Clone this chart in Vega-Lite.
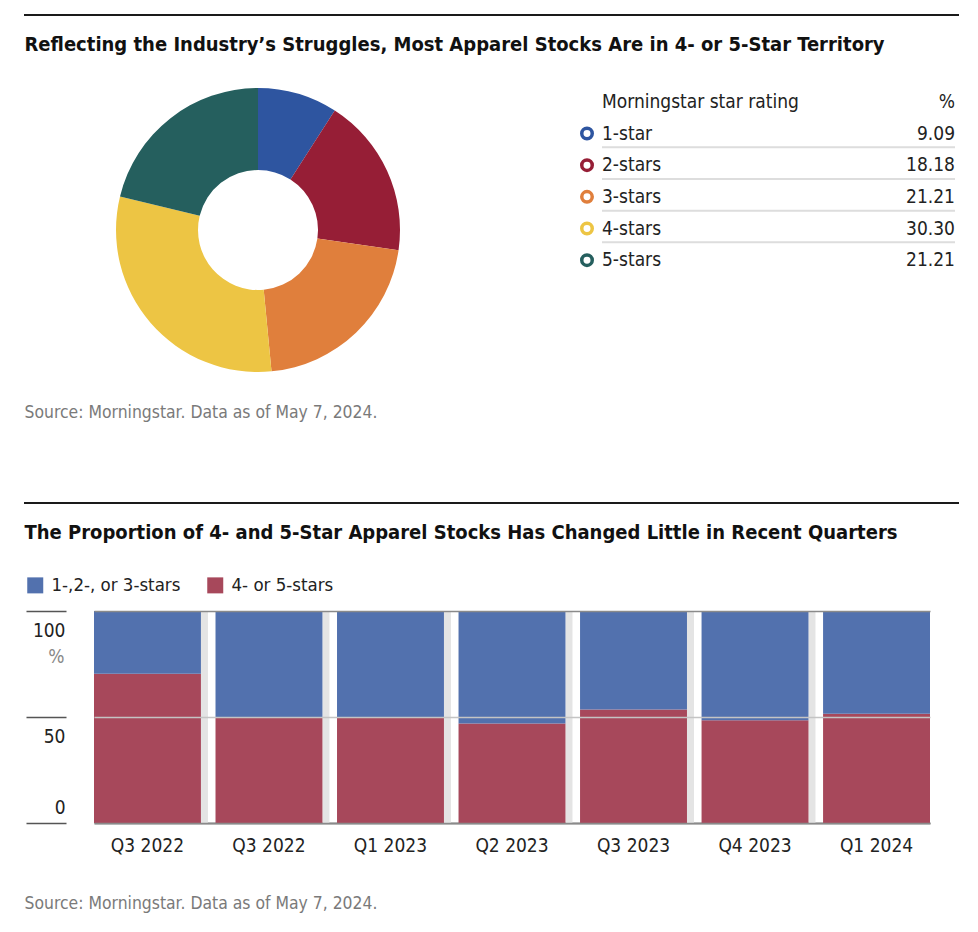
{
  "$schema": "https://vega.github.io/schema/vega-lite/v6.json",
  "padding": {"left": 23, "top": 14, "right": 0, "bottom": 0},
  "background": "white",
  "columns": 1,
  "align": "none",
  "spacing": 0,
  "config": {
    "font": "'Liberation Sans Narrow', 'DejaVu Sans Condensed', 'Roboto Condensed', Roboto, sans-serif",
    "view": {"stroke": null}
  },
  "resolve": {"scale": {"color": "independent", "stroke": "independent"}},
  "datasets": {
    "ratings": [
      {"rating": "1-star", "pct": 9.09},
      {"rating": "2-stars", "pct": 18.18},
      {"rating": "3-stars", "pct": 21.21},
      {"rating": "4-stars", "pct": 30.30},
      {"rating": "5-stars", "pct": 21.21}
    ],
    "quarters": [
      {"quarter": "Q3 2022", "group": "4- or 5-stars", "pct": 70.4},
      {"quarter": "Q3 2022", "group": "1-,2-, or 3-stars", "pct": 29.6},
      {"quarter": "Q3 2022 ", "group": "4- or 5-stars", "pct": 50.0},
      {"quarter": "Q3 2022 ", "group": "1-,2-, or 3-stars", "pct": 50.0},
      {"quarter": "Q1 2023", "group": "4- or 5-stars", "pct": 50.0},
      {"quarter": "Q1 2023", "group": "1-,2-, or 3-stars", "pct": 50.0},
      {"quarter": "Q2 2023", "group": "4- or 5-stars", "pct": 46.9},
      {"quarter": "Q2 2023", "group": "1-,2-, or 3-stars", "pct": 53.1},
      {"quarter": "Q3 2023", "group": "4- or 5-stars", "pct": 53.5},
      {"quarter": "Q3 2023", "group": "1-,2-, or 3-stars", "pct": 46.5},
      {"quarter": "Q4 2023", "group": "4- or 5-stars", "pct": 48.5},
      {"quarter": "Q4 2023", "group": "1-,2-, or 3-stars", "pct": 51.5},
      {"quarter": "Q1 2024", "group": "4- or 5-stars", "pct": 51.5},
      {"quarter": "Q1 2024", "group": "1-,2-, or 3-stars", "pct": 48.5}
    ]
  },
  "concat": [
    {
      "width": 865, "height": 2,
      "data": {"values": [{"from": 0, "to": 1}]},
      "mark": {"type": "rule", "color": "#1a1a1a", "strokeWidth": 2, "xOffset": -70},
      "encoding": {
        "x": {"field": "from", "type": "quantitative", "scale": {"domain": [0, 1], "nice": false}, "axis": null},
        "x2": {"field": "to"}
      }
    },
    {
      "width": 1, "height": 58,
      "data": {"values": [{"t": "Reflecting the Industry’s Struggles, Most Apparel Stocks Are in 4- or 5-Star Territory"}]},
      "mark": {"type": "text", "align": "left", "baseline": "middle", "fontSize": 20, "fontWeight": "bold", "color": "#111", "dx": -70},
      "encoding": {"text": {"field": "t"}}
    },
    {
      "spacing": 152,
      "hconcat": [
        {
          "width": 328, "height": 312,
          "data": {"name": "ratings"},
          "mark": {"type": "arc", "outerRadius": 142, "innerRadius": 60},
          "encoding": {
            "theta": {"field": "pct", "type": "quantitative", "stack": true},
            "color": {
              "field": "rating", "type": "nominal",
              "scale": {"domain": ["1-star", "2-stars", "3-stars", "4-stars", "5-stars"], "range": ["#2e55a0", "#961e36", "#e07f3c", "#edc544", "#255f5e"]},
              "legend": null
            },
            "order": {"field": "rating", "sort": "ascending"}
          }
        },
        {
          "width": 353, "height": 312,
          "layer": [
            {
              "data": {"name": "ratings"},
              "transform": [{"filter": "datum.rating != '5-stars'"}],
              "mark": {"type": "rule", "color": "#dddddd", "strokeWidth": 2, "yOffset": -2},
              "encoding": {
                "x": {"datum": 0, "type": "quantitative", "scale": {"domain": [0, 1], "nice": false, "zero": false}, "axis": null},
                "x2": {"datum": 1},
                "y": {"field": "rating", "type": "nominal", "bandPosition": 1,
                  "scale": {"type": "band", "domain": ["Morningstar star rating", "1-star", "2-stars", "3-stars", "4-stars", "5-stars"], "paddingInner": 0, "paddingOuter": 0, "range": [12, 202]},
                  "axis": null}
              }
            },
            {
              "data": {"values": [{"rating": "Morningstar star rating", "head": "%"}]},
              "mark": {"type": "text", "align": "left", "baseline": "middle", "fontSize": 19, "color": "#222"},
              "encoding": {
                "x": {"datum": 0, "type": "quantitative"},
                "y": {"field": "rating", "type": "nominal", "bandPosition": 0.5},
                "text": {"field": "rating"}
              }
            },
            {
              "data": {"values": [{"rating": "Morningstar star rating", "head": "%"}]},
              "mark": {"type": "text", "align": "right", "baseline": "middle", "fontSize": 19, "color": "#222"},
              "encoding": {
                "x": {"datum": 1, "type": "quantitative"},
                "y": {"field": "rating", "type": "nominal", "bandPosition": 0.5},
                "text": {"field": "head"}
              }
            },
            {
              "data": {"name": "ratings"},
              "mark": {"type": "point", "shape": "circle", "filled": false, "fill": "white", "fillOpacity": 1, "strokeWidth": 3.5, "size": 110, "xOffset": -15, "opacity": 1},
              "encoding": {
                "x": {"datum": 0, "type": "quantitative"},
                "y": {"field": "rating", "type": "nominal", "bandPosition": 0.5},
                "stroke": {
                  "field": "rating", "type": "nominal",
                  "scale": {"domain": ["1-star", "2-stars", "3-stars", "4-stars", "5-stars"], "range": ["#2e55a0", "#961e36", "#e07f3c", "#edc544", "#255f5e"]},
                  "legend": null
                }
              }
            },
            {
              "data": {"name": "ratings"},
              "mark": {"type": "text", "align": "left", "baseline": "middle", "fontSize": 19, "color": "#222"},
              "encoding": {
                "x": {"datum": 0, "type": "quantitative"},
                "y": {"field": "rating", "type": "nominal", "bandPosition": 0.5},
                "text": {"field": "rating"}
              }
            },
            {
              "data": {"name": "ratings"},
              "mark": {"type": "text", "align": "right", "baseline": "middle", "fontSize": 19, "color": "#222"},
              "encoding": {
                "x": {"datum": 1, "type": "quantitative"},
                "y": {"field": "rating", "type": "nominal", "bandPosition": 0.5},
                "text": {"field": "pct", "type": "quantitative", "format": ".2f"}
              }
            }
          ]
        }
      ]
    },
    {
      "width": 1, "height": 116,
      "data": {"values": [{"t": "Source: Morningstar. Data as of May 7, 2024."}]},
      "mark": {"type": "text", "align": "left", "baseline": "middle", "fontSize": 17.4, "color": "#7a7a7a", "dy": -31, "dx": -70},
      "encoding": {"text": {"field": "t"}}
    },
    {
      "width": 865, "height": 2,
      "data": {"values": [{"from": 0, "to": 1}]},
      "mark": {"type": "rule", "color": "#1a1a1a", "strokeWidth": 2, "xOffset": -70},
      "encoding": {
        "x": {"field": "from", "type": "quantitative", "scale": {"domain": [0, 1], "nice": false}, "axis": null},
        "x2": {"field": "to"}
      }
    },
    {
      "width": 1, "height": 72,
      "data": {"values": [{"t": "The Proportion of 4- and 5-Star Apparel Stocks Has Changed Little in Recent Quarters"}]},
      "mark": {"type": "text", "align": "left", "baseline": "middle", "fontSize": 20, "fontWeight": "bold", "color": "#111", "dy": -7, "dx": -70},
      "encoding": {"text": {"field": "t"}}
    },
    {
      "width": 836, "height": 212,
      "data": {"name": "quarters"},
      "layer": [
        {
          "transform": [{"filter": "datum.group == '4- or 5-stars' && datum.quarter != 'Q1 2024'"}],
          "mark": {"type": "rule", "color": "#e4e4e4", "strokeWidth": 7, "xOffset": 3.5},
          "encoding": {
            "x": {"field": "quarter", "type": "nominal", "bandPosition": 1, "sort": null}
          }
        },
        {
          "mark": {"type": "bar"},
          "encoding": {
            "x": {
              "field": "quarter", "type": "nominal", "sort": null,
              "scale": {"paddingInner": 0.12, "paddingOuter": 0},
              "axis": {"title": null, "labelAngle": 0, "labelAlign": "center", "labelExpr": "trim(datum.label)", "ticks": false, "domain": true, "domainColor": "#8a8a8a", "domainWidth": 2, "labelFontSize": 19, "labelColor": "#222", "labelPadding": 13, "labelBaseline": "top"}
            },
            "y": {
              "field": "pct", "type": "quantitative", "stack": "zero",
              "scale": {"domain": [0, 100], "nice": false},
              "axis": {
                "values": [0, 50, 100],
                "offset": 28, "tickSize": 40, "tickColor": "#555", "tickWidth": 1.5, "domain": false,
                "labelFontSize": 19, "labelColor": "#222", "labelAlign": "right", "labelPadding": -39,
                "labelBaseline": {"condition": {"test": "datum.value == 0", "value": "alphabetic"}, "value": "top"},
                "labelOffset": {"condition": {"test": "datum.value == 0", "value": -10}, "value": 10},
                "labelFlush": false, "labelOverlap": false,
                "title": "%", "titleAngle": 0, "titleX": -2, "titleY": 36, "titleAlign": "right", "titleBaseline": "top",
                "titleFontWeight": "normal", "titleFontSize": 19, "titleColor": "#888",
                "grid": true,
                "gridColor": {"condition": {"test": "datum.value == 50", "value": "#c4c4c4"}, "value": "#8a8a8a"},
                "gridWidth": 1.5,
                "zindex": 1
              }
            },
            "color": {
              "field": "group", "type": "nominal",
              "scale": {"domain": ["1-,2-, or 3-stars", "4- or 5-stars"], "range": ["#5271ae", "#a7485b"]},
              "legend": {
                "title": null, "orient": "none", "direction": "horizontal", "legendX": -68, "legendY": -35,
                "symbolType": "square", "symbolSize": 256, "symbolStrokeWidth": 0, "symbolOpacity": 1,
                "labelFontSize": 18.5, "labelColor": "#222", "labelOffset": 7, "columnPadding": 25
              }
            },
            "order": {"field": "group", "sort": "descending"}
          }
        }
      ]
    },
    {
      "width": 1, "height": 60,
      "data": {"values": [{"t": "Source: Morningstar. Data as of May 7, 2024."}]},
      "mark": {"type": "text", "align": "left", "baseline": "middle", "fontSize": 17.4, "color": "#7a7a7a", "dy": 19, "dx": -70},
      "encoding": {"text": {"field": "t"}}
    }
  ]
}
